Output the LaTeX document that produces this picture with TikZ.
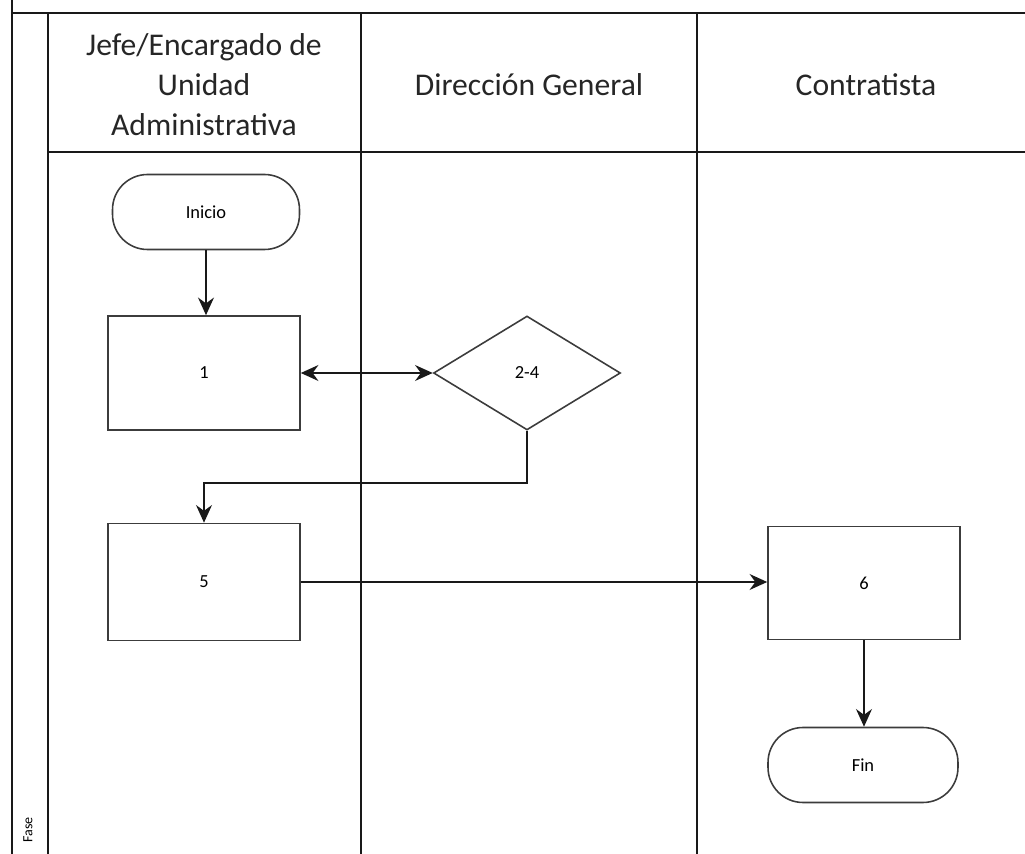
\documentclass[tikz,border=0pt]{standalone}
\usepackage{fontspec}
\setmainfont{Carlito}
\usetikzlibrary{shapes.geometric, arrows.meta, positioning}
\definecolor{laneline}{RGB}{25,25,25}
\definecolor{boxline}{RGB}{60,60,60}

\begin{document}
\begin{tikzpicture}[x=0.02cm, y=-0.02cm,
  lane/.style={line width=1.1pt, laneline},
  proc/.style={draw=boxline, line width=0.9pt, rectangle, minimum width=3.84cm, minimum height=2.28cm, font=\fontsize{10.5}{12}\selectfont},
  term/.style={draw=boxline, line width=0.9pt, rectangle, rounded corners=0.7cm, minimum width=3.74cm, minimum height=1.5cm, font=\fontsize{10.5}{12}\selectfont},
  decision/.style={draw=boxline, line width=0.9pt, diamond, minimum width=3.74cm, minimum height=2.28cm, inner sep=0pt, font=\fontsize{10.5}{12}\selectfont},
  flow/.style={line width=1.3pt, laneline, -{Stealth[length=10pt,width=9pt]}},
  header/.style={font=\fontsize{18}{22.7}\selectfont, align=center, text=black!85}]
  \useasboundingbox (0,0) rectangle (1025,854);

  % pool frame and lanes
  \draw[lane] (12,0) -- (12,854);
  \draw[lane] (12,13) -- (1025,13);
  \draw[lane] (48,13) -- (48,854);
  \draw[lane] (48,152) -- (1025,152);
  \draw[lane] (361,13) -- (361,854);
  \draw[lane] (697,13) -- (697,854);
  \node[rotate=90, font=\fontsize{8}{9}\selectfont] (fase) at (28,830) {Fase};

  % lane headers
  \node[header] (hjefe) at (204,85) {Jefe/Encargado de\\Unidad\\Administrativa};
  \node[header] (hdir) at (529,85) {Dirección General};
  \node[header] (hcon) at (866,85) {Contratista};

  % steps
  \node[term] (inicio) at (206,212) {Inicio};
  \node[proc] (p1) at (204,373) {1};
  \node[decision] (d24) at (527,373) {2-4};
  \node[proc, minimum height=2.34cm] (p5) at (204,582) {5};
  \node[proc, minimum height=2.26cm] (p6) at (864,583) {6};
  \node[term, minimum width=3.8cm] (fin) at (863,765) {Fin};
  \coordinate (bend) at (204,483);

  % connectors
  \draw[flow] (inicio.south) -- (inicio.south |- p1.north);
  \draw[flow, {Stealth[length=10pt,width=9pt]}-{Stealth[length=10pt,width=9pt]}] (p1) -- (d24);
  \draw[flow] (d24.south) |- (bend) -- (p5.north);
  \draw[flow] (p5.east) -- (p5.east -| p6.west);
  \draw[flow] (p6.south) -- (p6.south |- fin.north);
\end{tikzpicture}
\end{document}
